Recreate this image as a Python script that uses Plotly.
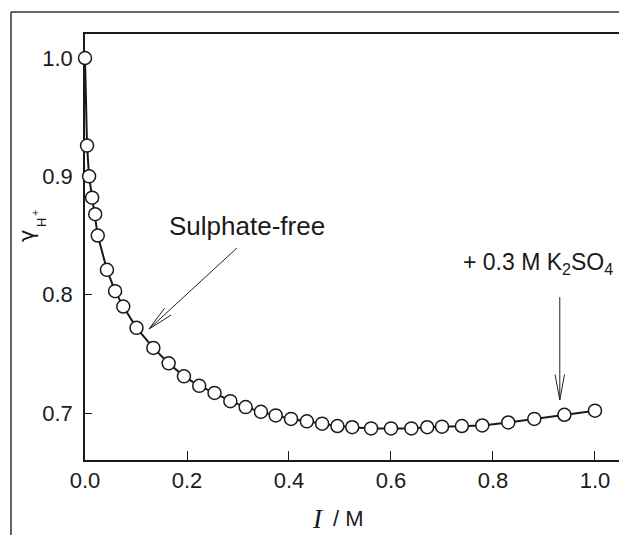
import math
import plotly.graph_objects as go

# ---- data ----
ionic_strength = [0.000, 0.004, 0.008, 0.014, 0.020, 0.025, 0.043, 0.059, 0.075,
                  0.101, 0.134, 0.164, 0.194, 0.224, 0.254, 0.285, 0.315, 0.345,
                  0.374, 0.404, 0.435, 0.465, 0.495, 0.524, 0.561, 0.600, 0.640,
                  0.671, 0.700, 0.739, 0.779, 0.830, 0.881, 0.940, 1.000]
gamma_h = [1.000, 0.926, 0.900, 0.882, 0.868, 0.850, 0.821, 0.803, 0.790,
           0.772, 0.755, 0.742, 0.731, 0.723, 0.717, 0.710, 0.705, 0.701,
           0.698, 0.695, 0.693, 0.691, 0.689, 0.688, 0.687, 0.687, 0.687,
           0.688, 0.6885, 0.689, 0.6895, 0.692, 0.695, 0.6985, 0.702]

x_tick_vals = [0.0, 0.2, 0.4, 0.6, 0.8, 1.0]
x_tick_text = ["0.0", "0.2", "0.4", "0.6", "0.8", "1.0"]
y_tick_vals = [0.7, 0.8, 0.9, 1.0]
y_tick_text = ["0.7", "0.8", "0.9", "1.0"]

# annotation arrows: (tail x, tail y, head x, head y)
arrow_free = (0.298, 0.8395, 0.1255, 0.771)
arrow_sulph = (0.931, 0.798, 0.931, 0.711)

# ---- layout geometry ----
W, H = 619, 535
ML, MR, MT, MB = 85, 0, 34, 75
X_RANGE = [0.0, 1.0471]
Y_RANGE = [0.6603, 1.0203]
PW, PH = W - ML - MR, H - MT - MB

def to_px(x, y):
    return (ML + (x - X_RANGE[0]) / (X_RANGE[1] - X_RANGE[0]) * PW,
            MT + (Y_RANGE[1] - y) / (Y_RANGE[1] - Y_RANGE[0]) * PH)

def to_data(px, py):
    return (X_RANGE[0] + (px - ML) / PW * (X_RANGE[1] - X_RANGE[0]),
            Y_RANGE[1] - (py - MT) / PH * (Y_RANGE[1] - Y_RANGE[0]))

def paper_x(px):
    return (px - ML) / PW

def paper_y(py):
    return (H - MB - py) / PH

FONT = "Liberation Sans, Arial, sans-serif"
INK = "#1a1a1a"

fig = go.Figure()
fig.add_trace(go.Scatter(
    x=ionic_strength, y=gamma_h, mode="lines+markers",
    line=dict(color=INK, width=2),
    marker=dict(symbol="circle", size=13, color="white",
                line=dict(color=INK, width=1.5)),
    cliponaxis=False, showlegend=False, hoverinfo="skip"))

shapes = []
# outer frame (partial)
shapes.append(dict(type="line", xref="paper", yref="paper",
                   x0=paper_x(11), y0=paper_y(536), x1=paper_x(11), y1=paper_y(12),
                   line=dict(color="#333", width=1.5)))
shapes.append(dict(type="line", xref="paper", yref="paper",
                   x0=paper_x(11), y0=paper_y(12), x1=paper_x(620), y1=paper_y(12),
                   line=dict(color="#333", width=1.5)))

def add_arrow(tx, ty, hx, hy):
    shapes.append(dict(type="line", xref="x", yref="y", x0=tx, y0=ty, x1=hx, y1=hy,
                       line=dict(color="#222", width=1)))
    tpx, tpy = to_px(tx, ty)
    hpx, hpy = to_px(hx, hy)
    dx, dy = tpx - hpx, tpy - hpy
    n = math.hypot(dx, dy)
    ux, uy = dx / n, dy / n
    L, half = 26.0, math.radians(10.5)
    pts = []
    for s in (1, -1):
        c, si = math.cos(s * half), math.sin(s * half)
        vx, vy = ux * c - uy * si, ux * si + uy * c
        pts.append(to_data(hpx + L * vx, hpy + L * vy))
    path = "M {:.5f},{:.5f} L {:.5f},{:.5f} L {:.5f},{:.5f}".format(
        pts[0][0], pts[0][1], hx, hy, pts[1][0], pts[1][1])
    shapes.append(dict(type="path", xref="x", yref="y", path=path,
                       line=dict(color="#222", width=1)))

add_arrow(*arrow_free)
add_arrow(*arrow_sulph)

annotations = [
    dict(text="Sulphate-free", x=to_data(167, 0)[0], y=to_data(0, 226)[1],
         xref="x", yref="y", xanchor="left", yanchor="middle", showarrow=False,
         font=dict(family=FONT, size=26, color=INK)),
    dict(text="+ 0.3 M K<sub>2</sub>SO<sub>4</sub>", x=to_data(461, 0)[0], y=to_data(0, 263)[1],
         xref="x", yref="y", xanchor="left", yanchor="middle", showarrow=False,
         font=dict(family=FONT, size=23, color=INK)),
    # y-axis title  gamma_{H+}
    dict(text="γ", x=paper_x(27), y=paper_y(236), xref="paper", yref="paper",
         textangle=-90, showarrow=False, xanchor="center", yanchor="middle",
         font=dict(family="DejaVu Sans, sans-serif", size=21, color=INK)),
    dict(text="H", x=paper_x(42), y=paper_y(223), xref="paper", yref="paper",
         textangle=-90, showarrow=False, xanchor="center", yanchor="middle",
         font=dict(family=FONT, size=13, color=INK)),
    dict(text="+", x=paper_x(35), y=paper_y(213), xref="paper", yref="paper",
         textangle=-90, showarrow=False, xanchor="center", yanchor="middle",
         font=dict(family=FONT, size=11, color=INK)),
    # x-axis title
    dict(text="<i>I</i>", x=paper_x(318), y=paper_y(519), xref="paper", yref="paper",
         showarrow=False, xanchor="center", yanchor="middle",
         font=dict(family="Liberation Serif, Times New Roman, serif", size=27, color=INK)),
    dict(text="/ M", x=paper_x(331), y=paper_y(518), xref="paper", yref="paper",
         showarrow=False, xanchor="left", yanchor="middle",
         font=dict(family=FONT, size=22, color=INK)),
]

fig.update_layout(
    width=W, height=H,
    margin=dict(l=ML, r=MR, t=MT, b=MB, pad=0),
    paper_bgcolor="white", plot_bgcolor="white",
    shapes=shapes, annotations=annotations, showlegend=False,
    xaxis=dict(range=X_RANGE, showgrid=False, zeroline=False,
               showline=True, mirror=True, linecolor=INK, linewidth=1.5,
               ticks="inside", ticklen=9, tickwidth=1.2, tickcolor=INK,
               tickvals=x_tick_vals, ticktext=x_tick_text,
               tickfont=dict(family=FONT, size=22, color=INK),
               ticklabelstandoff=0, layer="below traces"),
    yaxis=dict(range=Y_RANGE, showgrid=False, zeroline=False,
               showline=True, mirror=False, linecolor=INK, linewidth=1.5,
               ticks="inside", ticklen=7, tickwidth=1.2, tickcolor=INK,
               tickvals=y_tick_vals, ticktext=y_tick_text,
               tickfont=dict(family=FONT, size=22, color=INK),
               ticklabelstandoff=6, layer="below traces"),
)

fig.write_html(
    "out.html",
    config={"displayModeBar": False},
    post_script="document.documentElement.style.margin='0';"
                "document.body.style.margin='0';"
                "document.body.style.overflow='hidden';",
)
